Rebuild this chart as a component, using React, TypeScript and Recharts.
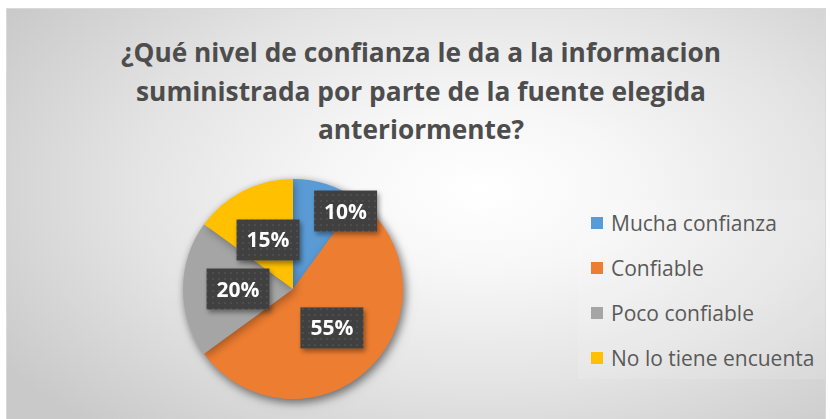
import React from 'react';
import { PieChart, Pie, Cell, Legend, Customized } from 'recharts';

const categories = ['Mucha confianza', 'Confiable', 'Poco confiable', 'No lo tiene encuenta'];
const values = [10, 55, 20, 15];
const colors = ['#5B9BD5', '#ED7D31', '#A5A5A5', '#FFC000'];
const titleLines = [
  '¿Qué nivel de confianza le da a la informacion',
  'suministrada por parte de la fuente elegida',
  'anteriormente?',
];
const titleWidths = [600, 570, 206];

const data = categories.map((name, i) => ({ name, value: values[i] }));

const RAD = Math.PI / 180;

const renderLabel = (p: any) => {
  const { cx, cy, midAngle, outerRadius, percent } = p;
  let r = outerRadius * 0.5;
  let a = midAngle;
  if (percent < 0.12) {
    r = outerRadius * 0.855;
    const end = typeof p.endAngle === 'number' ? p.endAngle : midAngle - 16;
    a = end + 2;
  }
  const x = cx + r * Math.cos(a * RAD);
  const y = cy - r * Math.sin(a * RAD);
  return (
    <g filter="url(#boxShadow)">
      <rect x={x - 31.5} y={y - 20.5} width={63} height={41} fill="url(#dots)" />
      <text
        x={x}
        y={y + 7.5}
        textAnchor="middle"
        fill="#ffffff"
        fontFamily="'Open Sans', sans-serif"
        fontWeight={700}
        fontSize={21}
      >
        {`${Math.round(percent * 100)}%`}
      </text>
    </g>
  );
};

const Title = () => (
  <g>
    <defs>
      <pattern id="dots" width={6} height={6} patternUnits="userSpaceOnUse">
        <rect width={6} height={6} fill="#404040" />
        <rect x={2} y={2} width={2} height={2} fill="#4e4e4e" />
      </pattern>
      <filter id="boxShadow" x="-30%" y="-30%" width="160%" height="160%">
        <feDropShadow dx={2} dy={3} stdDeviation={2.5} floodColor="#000" floodOpacity={0.4} />
      </filter>
    </defs>
    {titleLines.map((t, i) => (
      <text
        key={i}
        x={421}
        y={62 + i * 38.5}
        textAnchor="middle"
        fill="#4d4d4d"
        fontFamily="'Open Sans', sans-serif"
        fontWeight={700}
        fontSize={27}
        textLength={titleWidths[i]}
        lengthAdjust="spacingAndGlyphs"
      >
        {t}
      </text>
    ))}
  </g>
);

const renderLegend = () => (
  <div style={{ width: '100%', height: '100%' }}>
    {categories.map((c, i) => (
      <div
        key={c}
        style={{
          height: 45,
          display: 'flex',
          alignItems: 'center',
          fontFamily: "'Open Sans', sans-serif",
          fontSize: 21,
          color: '#595959',
          whiteSpace: 'nowrap',
        }}
      >
        <span
          style={{
            display: 'inline-block',
            width: 12,
            height: 12,
            background: colors[i],
            marginLeft: 13,
            marginRight: 8,
          }}
        />
        <span>{c}</span>
      </div>
    ))}
  </div>
);

export default function App() {
  return (
    <div style={{ position: 'absolute', left: 0, top: 0, width: 830, height: 419, background: '#ffffff', overflow: 'hidden' }}>
      <style>{`.pie-shadow { filter: drop-shadow(2px 3px 4px rgba(0,0,0,0.3)); }`}</style>
      <div
        style={{
          position: 'absolute',
          left: 6,
          top: 8,
          width: 818,
          height: 430,
          border: '1px solid #d9d9d9',
          background:
            'radial-gradient(ellipse 70% 75% at 58% 42%, #ffffff 0%, #f7f7f7 25%, #e4e4e4 60%, #c9c9c9 100%)',
        }}
      />
      <div style={{ position: 'absolute', left: 0, top: 0 }}>
        <PieChart width={830} height={419} margin={{ top: 0, right: 0, bottom: 0, left: 0 }}>
          <Customized component={Title} />
          <Pie
            data={data}
            dataKey="value"
            nameKey="name"
            cx={293}
            cy={289}
            outerRadius={110}
            startAngle={90}
            endAngle={-270}
            stroke="none"
            label={renderLabel}
            labelLine={false}
            isAnimationActive={false}
            className="pie-shadow"
          >
            {data.map((d, i) => (
              <Cell key={d.name} fill={colors[i]} stroke="none" />
            ))}
          </Pie>
          <Legend
            content={renderLegend}
            wrapperStyle={{
              position: 'absolute',
              left: 578,
              top: 200,
              width: 247,
              height: 179,
              background: 'rgba(255,255,255,0.12)',
            }}
          />
        </PieChart>
      </div>
    </div>
  );
}
